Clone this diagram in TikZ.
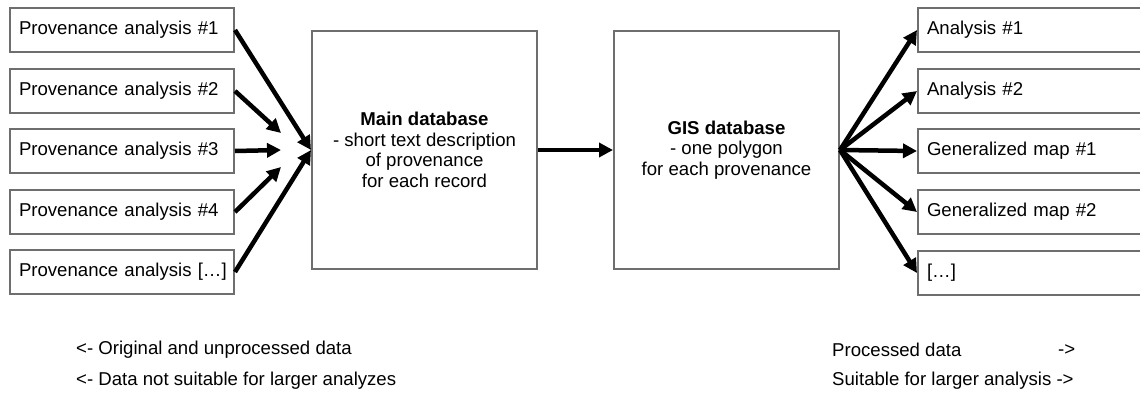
\documentclass[tikz,border=0pt]{standalone}
\usepackage{fontspec}
\setmainfont{Liberation Sans}
\usetikzlibrary{arrows.meta}
\definecolor{boxgray}{HTML}{6E6E6E}
\tikzset{
  txt/.style={font=\fontsize{18.6}{20.6}\selectfont},
  sbox/.style={txt, draw=boxgray, line width=2pt, fill=white, anchor=north west,
     minimum height=44pt, inner xsep=9pt, inner ysep=0pt, align=left},
  lbox/.style={sbox, text width=206pt},
  rbox/.style={sbox, text width=240pt},
  bigbox/.style={txt, draw=boxgray, line width=2pt, fill=white,
     minimum width=225pt, minimum height=238pt, align=center},
  arr/.style={line width=4.5pt, -{Triangle[length=14pt,width=14pt]}},
  note/.style={txt, anchor=west, inner sep=0pt}
}
\begin{document}
\begin{tikzpicture}[x=1pt,y=-1pt]
\clip (0,0) rectangle (1140,394);
\fill[white] (0,0) rectangle (1140,394);
% left boxes
\node[lbox] (p1) at (9,7)   {\mbox{Provenance analysis \#1}};
\node[lbox] (p2) at (9,68)  {\mbox{Provenance analysis \#2}};
\node[lbox] (p3) at (9,128) {\mbox{Provenance analysis \#3}};
\node[lbox] (p4) at (9,189) {\mbox{Provenance analysis \#4}};
\node[lbox] (p5) at (9,249) {\mbox{Provenance analysis […]}};
% central boxes
\node[bigbox] (main) at (424.5,150) {\textbf{Main database}\\- short text description\\of provenance\\for each record};
\node[bigbox] (gis) at (726.5,150) {\textbf{GIS database}\\- one polygon\\for each provenance};
% right boxes
\node[rbox] (r1) at (917,7)   {Analysis \#1};
\node[rbox] (r2) at (917,68)  {Analysis \#2};
\node[rbox] (r3) at (917,128) {Generalized map \#1};
\node[rbox] (r4) at (917,189) {Generalized map \#2};
\node[rbox] (r5) at (917,250) {[…]};
% convergence coordinates
\coordinate (m2) at (281,133);
\coordinate (m3) at (281,150);
\coordinate (m4) at (281,167);
% left arrows
\draw[arr] (p1.east) -- (main.west);
\draw[arr] (p2.east) -- (m2);
\draw[arr] (p3.east) -- (m3);
\draw[arr] (p4.east) -- (m4);
\draw[arr] (p5.east) -- (main.west);
% middle arrow
\draw[arr] (main.east) -- (gis.west);
% right arrows
\draw[arr] (gis.east) -- (r1.west);
\draw[arr] (gis.east) -- (r2.west);
\draw[arr] (gis.east) -- (r3.west);
\draw[arr] (gis.east) -- (r4.west);
\draw[arr] (gis.east) -- (r5.west);
% notes
\node[note] (n1) at (76,350) {<- Original and unprocessed data};
\node[note] (n2) at (76,381) {<- Data not suitable for larger analyzes};
\node[note] (n3) at (832,350) {Processed data};
\node[note] (n3b) at (1058,350) {->};
\node[note] (n4) at (832,381) {Suitable for larger analysis ->};
\end{tikzpicture}
\end{document}
